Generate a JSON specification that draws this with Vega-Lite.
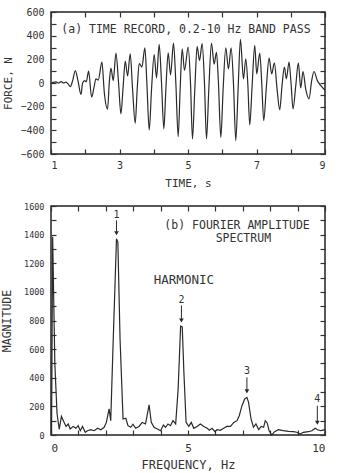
{
  "$schema": "https://vega.github.io/schema/vega-lite/v6.json",
  "background": "white",
  "padding": {"left": 0, "top": 6, "right": 5, "bottom": 0},
  "spacing": 52,
  "bounds": "flush",
  "config": {
    "view": {"stroke": "#222", "strokeWidth": 1.5},
    "axis": {
      "domain": false, "grid": false,
      "tickColor": "#333", "tickWidth": 1.2, "tickSize": -5,
      "labelFont": "DejaVu Sans Mono", "labelColor": "#333", "labelFontSize": 10,
      "titleFont": "DejaVu Sans Mono", "titleColor": "#333", "titleFontSize": 11, "titleFontWeight": "normal"
    },
    "text": {"font": "DejaVu Sans Mono", "color": "#333"}
  },
  "datasets": {
    "time": [
      {"t":1.000,"f":-5},{"t":1.068,"f":5},{"t":1.146,"f":10},{"t":1.224,"f":0},{"t":1.292,"f":12},{"t":1.369,"f":0},{"t":1.437,"f":8},{"t":1.505,"f":-10},{"t":1.564,"f":-30},{"t":1.632,"f":20},
      {"t":1.710,"f":105},{"t":1.787,"f":20},{"t":1.875,"f":-97},{"t":1.923,"f":0},{"t":1.982,"f":20},{"t":2.030,"f":10},{"t":2.098,"f":100},{"t":2.186,"f":-120},{"t":2.254,"f":-40},{"t":2.312,"f":35},
      {"t":2.380,"f":25},{"t":2.487,"f":176},{"t":2.555,"f":-77},{"t":2.652,"f":-220},{"t":2.701,"f":0},{"t":2.750,"f":125},{"t":2.818,"f":20},{"t":2.896,"f":253},{"t":2.973,"f":0},{"t":3.041,"f":-260},
      {"t":3.109,"f":-20},{"t":3.168,"f":185},{"t":3.236,"f":60},{"t":3.313,"f":247},{"t":3.381,"f":-50},{"t":3.459,"f":-340},{"t":3.517,"f":-50},{"t":3.576,"f":165},{"t":3.654,"f":135},{"t":3.741,"f":298},
      {"t":3.799,"f":0},{"t":3.868,"f":-397},{"t":3.936,"f":-50},{"t":4.013,"f":241},{"t":4.081,"f":44},{"t":4.159,"f":326},{"t":4.227,"f":0},{"t":4.295,"f":-388},{"t":4.354,"f":-50},{"t":4.422,"f":255},
      {"t":4.490,"f":69},{"t":4.577,"f":337},{"t":4.645,"f":0},{"t":4.713,"f":-453},{"t":4.771,"f":-50},{"t":4.830,"f":289},{"t":4.898,"f":106},{"t":5.005,"f":303},{"t":5.073,"f":0},{"t":5.131,"f":-473},
      {"t":5.199,"f":-50},{"t":5.267,"f":309},{"t":5.336,"f":190},{"t":5.413,"f":332},{"t":5.481,"f":0},{"t":5.540,"f":-473},{"t":5.608,"f":-50},{"t":5.685,"f":337},{"t":5.763,"f":160},{"t":5.831,"f":260},
      {"t":5.889,"f":0},{"t":5.958,"f":-460},{"t":6.026,"f":-50},{"t":6.103,"f":298},{"t":6.181,"f":120},{"t":6.259,"f":298},{"t":6.327,"f":0},{"t":6.395,"f":-487},{"t":6.463,"f":-50},{"t":6.531,"f":368},
      {"t":6.619,"f":35},{"t":6.687,"f":205},{"t":6.745,"f":0},{"t":6.803,"f":-355},{"t":6.871,"f":-30},{"t":6.949,"f":318},{"t":7.007,"f":77},{"t":7.095,"f":253},{"t":7.153,"f":0},{"t":7.211,"f":-318},
      {"t":7.289,"f":-30},{"t":7.367,"f":210},{"t":7.444,"f":77},{"t":7.522,"f":170},{"t":7.600,"f":-50},{"t":7.678,"f":-227},{"t":7.746,"f":-20},{"t":7.814,"f":134},{"t":7.872,"f":35},{"t":7.950,"f":176},
      {"t":8.008,"f":0},{"t":8.067,"f":-219},{"t":8.144,"f":-30},{"t":8.222,"f":170},{"t":8.290,"f":-41},{"t":8.358,"f":97},{"t":8.436,"f":-50},{"t":8.533,"f":-134},{"t":8.611,"f":20},{"t":8.679,"f":97},
      {"t":8.776,"f":20},{"t":8.874,"f":-20},{"t":9.000,"f":-63}
    ],
    "spec": [
      {"hz":0.02,"mag":0},{"hz":0.06,"mag":1385},{"hz":0.14,"mag":500},{"hz":0.22,"mag":150},{"hz":0.30,"mag":40},{"hz":0.38,"mag":130},{"hz":0.48,"mag":88},{"hz":0.55,"mag":60},{"hz":0.63,"mag":77},{"hz":0.70,"mag":42},
      {"hz":0.81,"mag":60},{"hz":0.91,"mag":47},{"hz":0.99,"mag":65},{"hz":1.07,"mag":30},{"hz":1.15,"mag":60},{"hz":1.25,"mag":19},{"hz":1.33,"mag":30},{"hz":1.45,"mag":37},{"hz":1.58,"mag":30},{"hz":1.70,"mag":47},
      {"hz":1.82,"mag":37},{"hz":1.94,"mag":54},{"hz":2.02,"mag":88},{"hz":2.12,"mag":182},{"hz":2.18,"mag":100},{"hz":2.26,"mag":600},{"hz":2.39,"mag":1371},{"hz":2.44,"mag":1348},{"hz":2.52,"mag":670},{"hz":2.63,"mag":112},
      {"hz":2.73,"mag":117},{"hz":2.81,"mag":65},{"hz":2.91,"mag":54},{"hz":2.99,"mag":75},{"hz":3.09,"mag":47},{"hz":3.21,"mag":60},{"hz":3.33,"mag":88},{"hz":3.45,"mag":77},{"hz":3.58,"mag":210},{"hz":3.66,"mag":88},
      {"hz":3.76,"mag":54},{"hz":3.88,"mag":42},{"hz":4.00,"mag":30},{"hz":4.10,"mag":70},{"hz":4.18,"mag":54},{"hz":4.27,"mag":77},{"hz":4.36,"mag":65},{"hz":4.45,"mag":100},{"hz":4.55,"mag":77},{"hz":4.64,"mag":322},
      {"hz":4.73,"mag":760},{"hz":4.79,"mag":755},{"hz":4.85,"mag":438},{"hz":4.93,"mag":88},{"hz":5.03,"mag":60},{"hz":5.12,"mag":88},{"hz":5.21,"mag":47},{"hz":5.33,"mag":60},{"hz":5.45,"mag":77},{"hz":5.58,"mag":60},
      {"hz":5.70,"mag":47},{"hz":5.78,"mag":33},{"hz":5.88,"mag":47},{"hz":5.98,"mag":23},{"hz":6.06,"mag":37},{"hz":6.18,"mag":33},{"hz":6.30,"mag":47},{"hz":6.42,"mag":60},{"hz":6.55,"mag":60},{"hz":6.67,"mag":88},
      {"hz":6.79,"mag":100},{"hz":6.87,"mag":135},{"hz":6.97,"mag":205},{"hz":7.07,"mag":252},{"hz":7.15,"mag":263},{"hz":7.21,"mag":228},{"hz":7.30,"mag":112},{"hz":7.39,"mag":54},{"hz":7.48,"mag":77},{"hz":7.58,"mag":37},
      {"hz":7.67,"mag":60},{"hz":7.76,"mag":54},{"hz":7.82,"mag":100},{"hz":7.89,"mag":84},{"hz":7.96,"mag":30},{"hz":8.06,"mag":0},{"hz":8.16,"mag":23},{"hz":8.30,"mag":37},{"hz":8.48,"mag":30},{"hz":8.67,"mag":26},
      {"hz":8.85,"mag":23},{"hz":8.97,"mag":19},{"hz":9.09,"mag":7},{"hz":9.21,"mag":19},{"hz":9.39,"mag":23},{"hz":9.52,"mag":30},{"hz":9.64,"mag":47},{"hz":9.73,"mag":37},{"hz":9.85,"mag":30},{"hz":10.0,"mag":37}
    ],
    "arrows": [
      {"n":"1","hz":2.39,"lab":1540,"top":1500,"tip":1410},
      {"n":"2","hz":4.76,"lab":945,"top":905,"tip":800},
      {"n":"3","hz":7.15,"lab":448,"top":403,"tip":305},
      {"n":"4","hz":9.72,"lab":250,"top":205,"tip":85}
    ],
    "notes": [
      {"hz":6.79,"mag":1462,"txt":"(b) FOURIER AMPLITUDE","size":"n"},
      {"hz":7.02,"mag":1367,"txt":"SPECTRUM","size":"n"},
      {"hz":4.85,"mag":1082,"txt":"HARMONIC","size":"h"}
    ]
  },
  "vconcat": [
    {
      "width": 274, "height": 142,
      "layer": [
        {
          "data": {"name": "time"},
          "mark": {"type": "line", "color": "#2a2a2a", "strokeWidth": 1.2, "interpolate": "monotone"},
          "encoding": {
            "x": {"field": "t", "type": "quantitative", "scale": {"domain": [1, 9], "nice": false, "zero": false},
                  "axis": {"orient": "bottom", "values": [1,2,3,4,5,6,7,8,9], "format": "d", "labelExpr": "datum.value % 2 == 1 ? datum.label : ''", "labelPadding": 11, "title": "TIME, s", "titlePadding": 7}},
            "y": {"field": "f", "type": "quantitative", "scale": {"domain": [-600, 600], "nice": false},
                  "axis": {"orient": "left", "values": [-600,-500,-400,-300,-200,-100,0,100,200,300,400,500,600], "format": "d", "labelExpr": "datum.value % 200 == 0 ? datum.label : ''", "labelPadding": 12, "title": "FORCE, N", "titlePadding": 6}}
          }
        },
        {
          "data": {"values": [{"t": 4.94, "f": 445, "txt": "(a) TIME RECORD, 0.2-10 Hz BAND PASS"}]},
          "mark": {"type": "text", "fontSize": 11.5, "align": "center", "baseline": "middle"},
          "encoding": {
            "x": {"field": "t", "type": "quantitative", "axis": {"orient": "top", "values": [1,2,3,4,5,6,7,8,9], "labels": false, "title": null}},
            "y": {"field": "f", "type": "quantitative", "axis": {"orient": "right", "values": [-600,-500,-400,-300,-200,-100,0,100,200,300,400,500,600], "labels": false, "title": null}},
            "text": {"field": "txt"}
          }
        }
      ],
      "resolve": {"axis": {"x": "independent", "y": "independent"}}
    },
    {
      "width": 274, "height": 229,
      "layer": [
        {
          "data": {"name": "spec"},
          "mark": {"type": "line", "color": "#2a2a2a", "strokeWidth": 1.2},
          "encoding": {
            "x": {"field": "hz", "type": "quantitative", "scale": {"domain": [0, 10], "nice": false},
                  "axis": {"orient": "bottom", "values": [0,1,2,3,4,5,6,7,8,9,10], "format": "d", "labelExpr": "datum.value % 5 == 0 ? datum.label : ''", "labelPadding": 12.5, "labelFontSize": 11, "title": "FREQUENCY, Hz", "titleFontSize": 12, "titlePadding": 5.5}},
            "y": {"field": "mag", "type": "quantitative", "scale": {"domain": [0, 1600], "nice": false},
                  "axis": {"orient": "left", "values": [0,100,200,300,400,500,600,700,800,900,1000,1100,1200,1300,1400,1500,1600], "format": "d", "labelExpr": "datum.value % 200 == 0 ? datum.label : ''", "labelPadding": 12, "labelFontSize": 8.5, "title": "MAGNITUDE", "titleFontSize": 11.5, "titlePadding": 11.5}}
          }
        },
        {
          "data": {"name": "arrows"},
          "mark": {"type": "rule", "color": "#2a2a2a", "strokeWidth": 1},
          "encoding": {
            "x": {"field": "hz", "type": "quantitative", "axis": null},
            "y": {"field": "top", "type": "quantitative", "axis": null},
            "y2": {"field": "tip"}
          }
        },
        {
          "data": {"name": "arrows"},
          "mark": {"type": "point", "shape": "triangle-down", "filled": true, "color": "#2a2a2a", "size": 22, "opacity": 1},
          "encoding": {
            "x": {"field": "hz", "type": "quantitative", "axis": null},
            "y": {"field": "tip", "type": "quantitative", "axis": null}
          }
        },
        {
          "data": {"name": "arrows"},
          "mark": {"type": "text", "fontSize": 10, "baseline": "middle"},
          "encoding": {
            "x": {"field": "hz", "type": "quantitative", "axis": null},
            "y": {"field": "lab", "type": "quantitative", "axis": null},
            "text": {"field": "n"}
          }
        },
        {
          "data": {"name": "notes"},
          "mark": {"type": "text", "baseline": "middle", "align": "center"},
          "encoding": {
            "x": {"field": "hz", "type": "quantitative", "axis": {"orient": "top", "values": [0,1,2,3,4,5,6,7,8,9,10], "labels": false, "title": null}},
            "y": {"field": "mag", "type": "quantitative", "axis": {"orient": "right", "values": [0,100,200,300,400,500,600,700,800,900,1000,1100,1200,1300,1400,1500,1600], "labels": false, "title": null}},
            "text": {"field": "txt"},
            "size": {"field": "size", "type": "nominal", "scale": {"domain": ["n", "h"], "range": [11.5, 12.5]}, "legend": null}
          }
        }
      ],
      "resolve": {"axis": {"x": "independent", "y": "independent"}}
    }
  ]
}
